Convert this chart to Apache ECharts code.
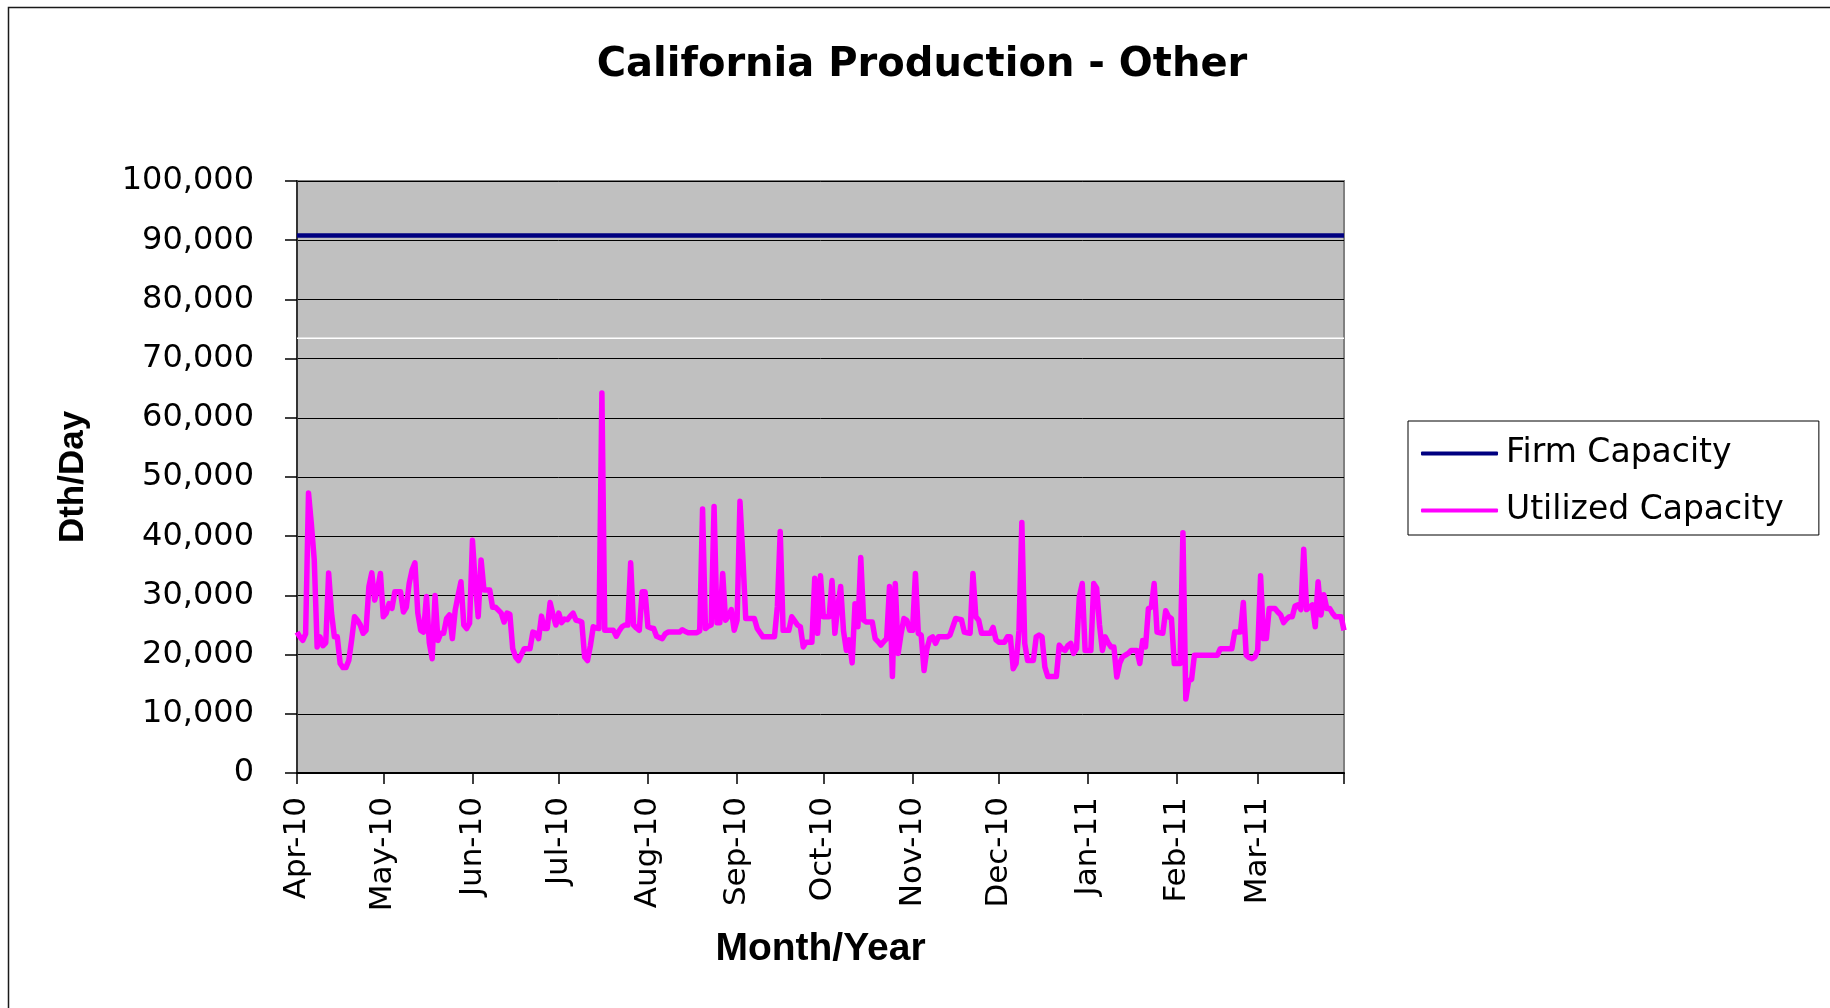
<!DOCTYPE html>
<html>
<head>
<meta charset="utf-8">
<title>California Production - Other</title>
<script src="https://cdn.jsdelivr.net/npm/echarts/dist/echarts.min.js"></script>
<style>
  html, body { margin: 0; padding: 0; background: #fff; }
  #chart { width: 1830px; height: 1008px; }
</style>
</head>
<body>
<div id="chart"></div>
<script>
// month tick labels and number of days in each month
var monthLabels = ["Apr-10", "May-10", "Jun-10", "Jul-10", "Aug-10", "Sep-10",
  "Oct-10", "Nov-10", "Dec-10", "Jan-11", "Feb-11", "Mar-11"];
var monthDays = [30, 31, 30, 31, 31, 30, 31, 30, 31, 31, 28, 31];

// utilized capacity, daily, in thousand Dth/Day
var utilApr10 = [23.8, 23, 22.4, 23.5, 47.3, 42, 36, 21.3, 23, 21.5, 22, 33.8, 27, 23, 23, 18.5, 17.8, 17.8, 19, 22.5,
  26.4, 25.8, 25, 23.6, 24.1, 31.5, 33.8, 29.2, 31, 33.7];
var utilMay10 = [26.4, 27, 28.6, 27.8, 30.6, 30.6, 30.6, 27.2, 28, 32, 34.3, 35.5, 27, 24.1, 23.8, 29.8, 22, 19.3, 30, 22.4,
  23.6, 23.6, 26.1, 26.7, 22.7, 27.5, 30, 32.3, 25, 24.4, 25.3];
var utilJun10 = [39.3, 32, 26.4, 36, 30.9, 30.9, 30.9, 28, 28, 27.5, 27, 25.5, 27, 26.8, 21, 19.6, 19, 20, 21, 21,
  21, 23.8, 23.6, 22.7, 26.5, 24.4, 24.4, 28.8, 26.7, 25];
var utilJul10 = [27, 25.4, 26, 25.9, 26.5, 27, 25.8, 25.7, 25.5, 19.6, 19, 21.5, 24.7, 24.5, 24.4, 64.2, 24.1, 24.1, 24.1, 24.1,
  23.1, 24, 24.7, 25, 25, 35.5, 25, 24.5, 24.1, 30.6, 30.6];
var utilAug10 = [24.7, 24.5, 24.4, 23.1, 22.9, 22.7, 23.5, 23.8, 23.8, 23.8, 23.8, 23.8, 24.2, 23.9, 23.7, 23.7, 23.7, 23.7, 24, 44.6,
  24.4, 24.8, 25, 45, 25.4, 25.4, 33.7, 25.8, 26.5, 27.6, 24.1];
var utilSep10 = [25.8, 45.9, 36.6, 26.1, 26.1, 26.1, 26.1, 24.4, 23.7, 23, 23, 23, 23, 23, 28.1, 40.8, 24.1, 24.1, 24.1, 26.4,
  25.7, 25, 24.7, 21.3, 22.1, 22.1, 22.1, 32.9, 23.6, 33.3];
var utilOct10 = [26.4, 26.4, 26.4, 32.5, 23.6, 28, 31.5, 24, 20.7, 22.5, 18.6, 28.6, 24.7, 36.4, 25.8, 25.5, 25.5, 25.5, 22.7, 22.2,
  21.6, 22.2, 22.7, 31.5, 16.3, 32, 20.2, 23.5, 26.1, 25.8, 24.1];
var utilNov10 = [24.1, 33.7, 23.6, 23.3, 17.3, 21, 22.7, 23, 21.9, 23, 23, 23, 23, 23.3, 24.7, 26.1, 26, 25.9, 23.8, 23.7,
  23.6, 33.7, 26.4, 25.8, 23.6, 23.6, 23.6, 23.6, 24.6, 22.5];
var utilDec10 = [22.1, 22.1, 22.1, 23, 23, 17.6, 18.5, 24, 42.3, 21.9, 19, 19, 19, 23, 23.3, 23, 17.9, 16.3, 16.3, 16.3,
  16.3, 21.6, 21, 20.7, 21.5, 21.9, 20.2, 21, 29.8, 32, 20.7];
var utilJan11 = [20.7, 20.7, 32, 31.2, 25, 20.7, 23, 22, 21.3, 21.3, 16.2, 18.5, 19.6, 19.9, 20.2, 20.7, 20.7, 20.7, 18.5, 22.4,
  21.3, 27.8, 28, 32, 23.8, 23.7, 23.6, 27.4, 26.4, 26.1, 18.5];
var utilFeb11 = [18.5, 18.5, 40.6, 12.5, 15.6, 15.8, 19.9, 19.9, 19.9, 19.9, 19.9, 19.9, 19.9, 19.9, 19.9, 21, 21, 21, 21, 21,
  23.8, 23.8, 23.8, 28.8, 19.9, 19.5, 19.3, 19.6];
var utilMar11 = [20.7, 33.3, 22.7, 22.7, 27.8, 27.8, 27.8, 27.2, 26.7, 25.4, 26, 26.4, 26.4, 28.2, 28.4, 27.6, 37.8, 27.6, 28, 28.4,
  24.7, 32.3, 26.7, 30.1, 27.8, 27.8, 27, 26.4, 26.4, 26.4, 24.1];

var firmCapacity = 90800;   // flat contract level
var whiteLevel = 73450;     // thin white line across the plot

var yTicks = { min: 0, max: 100000, interval: 10000 };

// ---- build the daily category list and series arrays ----
var utilByMonth = [utilApr10, utilMay10, utilJun10, utilJul10, utilAug10, utilSep10,
  utilOct10, utilNov10, utilDec10, utilJan11, utilFeb11, utilMar11];
var days = [];
var utilized = [];
monthLabels.forEach(function (label, m) {
  for (var d = 1; d <= monthDays[m]; d++) {
    days.push(label + " " + d);
    utilized.push(Math.round(utilByMonth[m][d - 1] * 1000));
  }
});
var firmLine = days.map(function () { return firmCapacity; });
var whiteLine = days.map(function () { return whiteLevel; });
var lastIndex = days.length - 1;

function isMonthStart(value) {
  return / 1$/.test(value);
}

var chart = echarts.init(document.getElementById("chart"), null, { renderer: "canvas" });

var option = {
  backgroundColor: "#ffffff",
  animation: false,
  title: {
    text: "California Production - Other",
    left: 917,
    top: 41,
    textAlign: "center",
    textStyle: {
      fontFamily: "DejaVu Sans",
      fontWeight: "bold",
      fontSize: 40,
      color: "#000"
    }
  },
  graphic: [
    {
      // outer chart frame (only top and left edges are visible)
      type: "rect",
      z: -10,
      silent: true,
      shape: { x: 8.5, y: 7.5, width: 2000, height: 2000 },
      style: { fill: null, stroke: "#1a1a1a", lineWidth: 1.5 }
    }
  ],
  legend: {
    orient: "vertical",
    left: 1408,
    top: 421,
    padding: [16, 35, 8, 13],
    icon: "roundRect",
    itemWidth: 77,
    itemHeight: 4,
    itemGap: 24,
    backgroundColor: "#fff",
    borderColor: "#000",
    borderWidth: 1,
    data: ["Firm Capacity", "Utilized Capacity"],
    textStyle: {
      fontFamily: "DejaVu Sans",
      fontSize: 33,
      lineHeight: 32,
      color: "#000",
      padding: [0, 0, 0, 3]
    }
  },
  grid: {
    left: 297,
    top: 181,
    width: 1047,
    height: 592,
    show: true,
    backgroundColor: "#c0c0c0",
    borderColor: "#808080",
    borderWidth: 2,
    outerBoundsMode: "none"
  },
  xAxis: {
    type: "category",
    boundaryGap: false,
    data: days,
    name: "Month/Year",
    nameLocation: "middle",
    nameGap: 157,
    nameTextStyle: {
      fontFamily: "Liberation Sans",
      fontWeight: "bold",
      fontSize: 39,
      color: "#000"
    },
    axisLine: { show: true, lineStyle: { color: "#000", width: 2 } },
    axisTick: {
      show: true,
      length: 11,
      lineStyle: { color: "#000", width: 1.5 },
      interval: function (index, value) {
        return isMonthStart(value) || index === lastIndex;
      }
    },
    axisLabel: {
      rotate: 90,
      margin: 24,
      fontFamily: "DejaVu Sans",
      fontSize: 31,
      color: "#000",
      interval: function (index, value) {
        return isMonthStart(value);
      },
      formatter: function (value) {
        return value.split(" ")[0];
      }
    },
    splitLine: { show: false }
  },
  yAxis: {
    type: "value",
    min: yTicks.min,
    max: yTicks.max,
    interval: yTicks.interval,
    name: "Dth/Day",
    nameLocation: "middle",
    nameGap: 206,
    nameTextStyle: {
      fontFamily: "Liberation Sans",
      fontWeight: "bold",
      fontSize: 35,
      color: "#000"
    },
    axisLine: { show: true, lineStyle: { color: "#333", width: 2 } },
    axisTick: { show: true, length: 12, lineStyle: { color: "#000", width: 1.5 } },
    axisLabel: {
      margin: 43,
      fontFamily: "DejaVu Sans",
      fontSize: 32,
      color: "#000",
      formatter: function (v) {
        return v.toLocaleString("en-US");
      }
    },
    splitLine: { show: true, lineStyle: { color: "#000", width: 1 } }
  },
  series: [
    {
      name: "white",
      type: "line",
      data: whiteLine,
      symbol: "none",
      silent: true,
      lineStyle: { color: "#ffffff", width: 1.5 },
      itemStyle: { color: "#ffffff" },
      z: 1
    },
    {
      name: "Firm Capacity",
      type: "line",
      data: firmLine,
      symbol: "none",
      lineStyle: { color: "#000080", width: 4.5 },
      itemStyle: { color: "#000080" },
      z: 2
    },
    {
      name: "Utilized Capacity",
      type: "line",
      data: utilized,
      symbol: "none",
      lineStyle: { color: "#ff00ff", width: 5.5, join: "round" },
      itemStyle: { color: "#ff00ff" },
      z: 3
    }
  ]
};

chart.setOption(option);
</script>
</body>
</html>
